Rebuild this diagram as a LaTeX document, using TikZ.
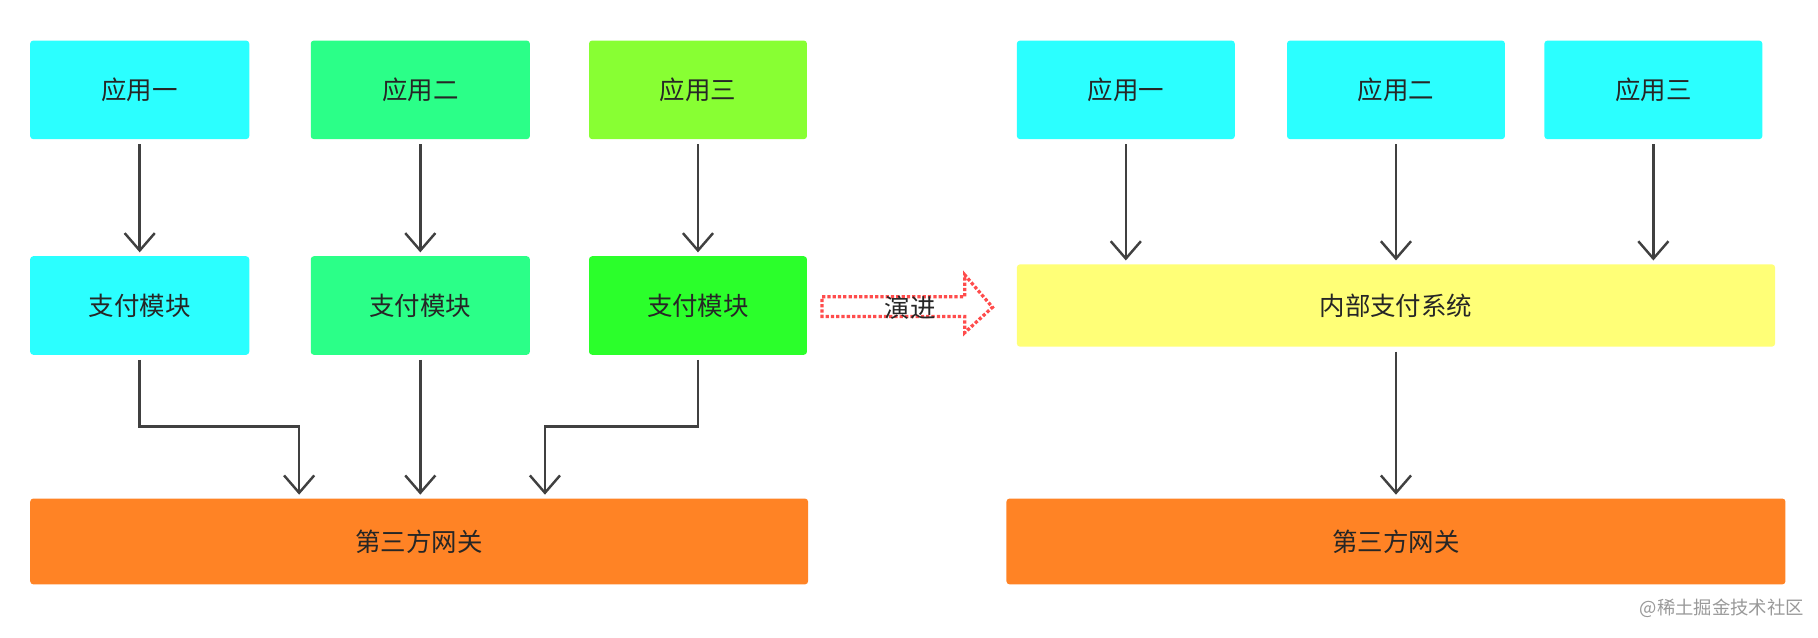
\documentclass[tikz,border=0pt]{standalone}
\usepackage{fontspec}
\setmainfont{Noto Sans CJK SC}
\usetikzlibrary{arrows.meta}

\definecolor{appcyan}{HTML}{2BFFFF}
\definecolor{appgreen}{HTML}{2BFF88}
\definecolor{applime}{HTML}{88FF33}
\definecolor{paygreen}{HTML}{2BFF2B}
\definecolor{gworange}{HTML}{FF8325}
\definecolor{sysyellow}{HTML}{FFFF77}
\definecolor{linegray}{HTML}{404040}

\begin{document}
\begin{tikzpicture}[x=0.02cm, y=-0.02cm,
  box/.style={rounded corners=1.5pt, inner sep=0, font=\fontsize{12.5}{14}\selectfont, text=black!85},
  flow/.style={draw=linegray, line width=1.2pt, -{Straight Barb[length=3mm,width=5.2mm,line width=1.2pt]}}]

% 画布
\useasboundingbox (0,0) rectangle (1568,550);

% 左侧方框
\node[box, fill=appcyan, minimum width=3.78cm, minimum height=1.7cm] (a1) at (120.5,77.5) {应用一};
\node[box, fill=appgreen, minimum width=3.78cm, minimum height=1.7cm] (a2) at (362.5,77.5) {应用二};
\node[box, fill=applime, minimum width=3.76cm, minimum height=1.7cm] (a3) at (602,77.5) {应用三};
\node[box, fill=appcyan, minimum width=3.78cm, minimum height=1.7cm] (p1) at (120.5,263.5) {支付模块};
\node[box, fill=appgreen, minimum width=3.78cm, minimum height=1.7cm] (p2) at (362.5,263.5) {支付模块};
\node[box, fill=paygreen, minimum width=3.76cm, minimum height=1.7cm] (p3) at (602,263.5) {支付模块};
\node[box, fill=gworange, minimum width=13.42cm, minimum height=1.48cm] (g1) at (361.5,467) {第三方网关};

% 右侧方框
\node[box, fill=appcyan, minimum width=3.76cm, minimum height=1.7cm] (b1) at (971,77.5) {应用一};
\node[box, fill=appcyan, minimum width=3.76cm, minimum height=1.7cm] (b2) at (1204,77.5) {应用二};
\node[box, fill=appcyan, minimum width=3.76cm, minimum height=1.7cm] (b3) at (1426,77.5) {应用三};
\node[box, fill=sysyellow, minimum width=13.08cm, minimum height=1.42cm] (sys) at (1204,263.5) {内部支付系统};
\node[box, fill=gworange, minimum width=13.44cm, minimum height=1.48cm] (g2) at (1204,467) {第三方网关};

% 左侧连线
\foreach \i in {1,2,3}
  \draw[flow] ([yshift=-0.08cm]a\i.south) -- ([yshift=0.06cm]p\i.north);
\coordinate (k1) at (258,368);
\coordinate (k3) at (470,368);
\draw[flow] ([yshift=-0.08cm]p1.south) |- (k1) -- ([yshift=0.06cm]k1 |- g1.north);
\draw[flow] ([yshift=-0.08cm]p2.south) -- ([yshift=0.06cm]p2.south |- g1.north);
\draw[flow] ([yshift=-0.08cm]p3.south) |- (k3) -- ([yshift=0.06cm]k3 |- g1.north);

% 右侧连线
\foreach \i in {1,2,3}
  \draw[flow] ([yshift=-0.08cm]b\i.south) -- ([yshift=0.06cm]b\i.south |- sys.north);
\draw[flow] ([yshift=-0.08cm]sys.south) -- ([yshift=0.06cm]g2.north);

% 演进
\draw[densely dotted, line width=1.6pt, red!60!pink] (709,256) -- (832,256) -- (832,237) -- (856,265) -- (832,287) -- (832,273) -- (709,273) -- cycle;
\node[font=\fontsize{12.5}{14}\selectfont, text=black!85] (evo) at (785,265) {演进};

% 水印
\node[anchor=east, font=\fontsize{9}{10}\selectfont, text=black!40] (mark) at (1562,525) {@稀土掘金技术社区};
\end{tikzpicture}
\end{document}
